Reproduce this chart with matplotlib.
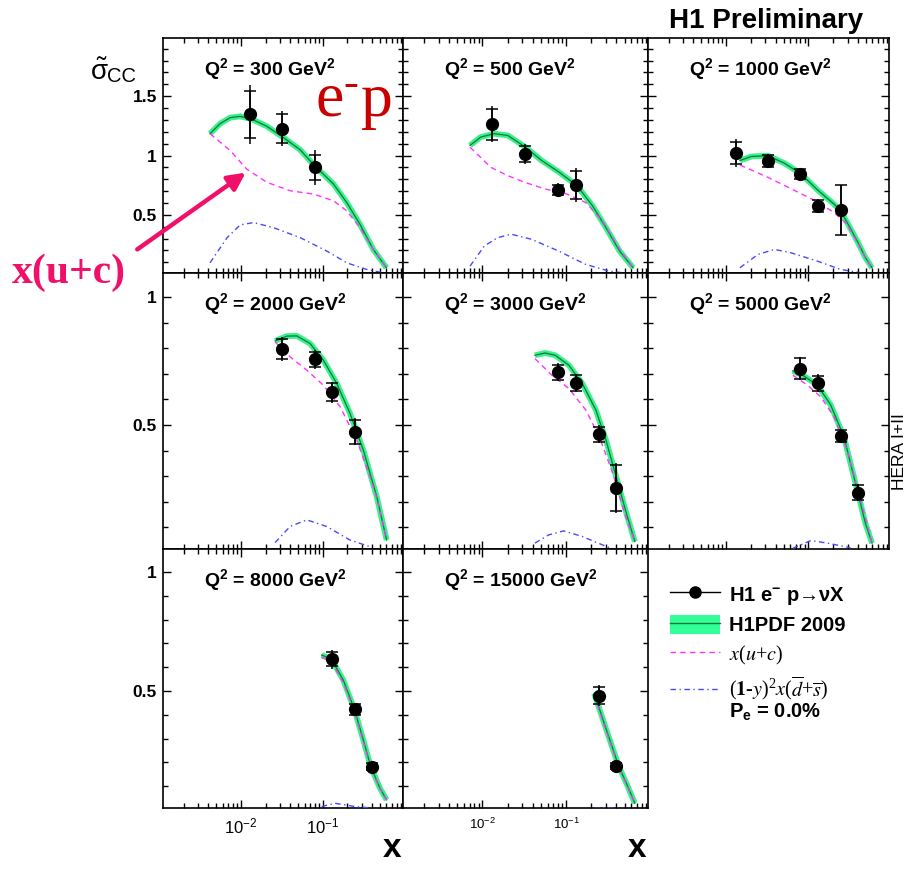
import numpy as np
import matplotlib
matplotlib.use("Agg")
import matplotlib.pyplot as plt
from matplotlib.ticker import LogLocator, MultipleLocator, FuncFormatter, NullFormatter
from matplotlib.lines import Line2D
from matplotlib.patches import Patch
from matplotlib.legend_handler import HandlerTuple

plt.rcParams['font.family'] = ['Liberation Sans', 'DejaVu Sans']
plt.rcParams['mathtext.default'] = 'regular'

# ---------------- data ----------------
# measured points: x, reduced cross section, stat error, total error
x_300 = [0.013, 0.032, 0.08]
sig_300 = [1.347, 1.226, 0.90]
stat_300 = [0.20, 0.12, 0.107]
tot_300 = [0.25, 0.15, 0.15]

x_500 = [0.013, 0.032, 0.08, 0.13]
sig_500 = [1.263, 1.014, 0.709, 0.752]
stat_500 = [0.13, 0.07, 0.045, 0.12]
tot_500 = [0.15, 0.085, 0.06, 0.14]

x_1000 = [0.013, 0.032, 0.08, 0.13, 0.25]
sig_1000 = [1.02, 0.955, 0.845, 0.572, 0.54]
stat_1000 = [0.09, 0.05, 0.04, 0.05, 0.21]
tot_1000 = [0.12, 0.06, 0.05, 0.06, 0.21]

x_2000 = [0.032, 0.08, 0.13, 0.25]
sig_2000 = [0.797, 0.757, 0.628, 0.474]
stat_2000 = [0.04, 0.03, 0.035, 0.047]
tot_2000 = [0.047, 0.037, 0.041, 0.054]

x_3000 = [0.08, 0.13, 0.25, 0.40]
sig_3000 = [0.706, 0.665, 0.464, 0.253]
stat_3000 = [0.03, 0.03, 0.03, 0.09]
tot_3000 = [0.035, 0.035, 0.035, 0.098]

x_5000 = [0.08, 0.13, 0.25, 0.40]
sig_5000 = [0.721, 0.663, 0.458, 0.236]
stat_5000 = [0.04, 0.03, 0.024, 0.03]
tot_5000 = [0.046, 0.035, 0.028, 0.033]

x_8000 = [0.13, 0.25, 0.40]
sig_8000 = [0.634, 0.423, 0.182]
stat_8000 = [0.03, 0.024, 0.015]
tot_8000 = [0.04, 0.028, 0.018]

x_15000 = [0.25, 0.40]
sig_15000 = [0.48, 0.185]
stat_15000 = [0.035, 0.012]
tot_15000 = [0.045, 0.015]

# curves: H1PDF 2009 prediction, x(u+c), (1-y)^2 x(dbar+sbar)   as (x, value)
pdf_300 = [(0.0042, 1.184), (0.0056, 1.269), (0.0074, 1.319), (0.0098, 1.33), (0.0134, 1.308),
           (0.0208, 1.246), (0.0325, 1.155), (0.053, 1.048), (0.078, 0.92), (0.135, 0.76),
           (0.196, 0.604), (0.285, 0.42), (0.414, 0.209), (0.60, 0.054)]
xuc_300 = [(0.0042, 1.184), (0.0074, 1.042), (0.0118, 0.885), (0.0208, 0.774), (0.040, 0.703),
           (0.077, 0.675), (0.135, 0.619), (0.196, 0.534), (0.285, 0.392), (0.414, 0.209), (0.60, 0.054)]
dsb_300 = [(0.0042, 0.096), (0.0068, 0.308), (0.0098, 0.415), (0.0143, 0.435), (0.025, 0.392),
           (0.053, 0.308), (0.112, 0.195), (0.196, 0.096), (0.344, 0.04), (0.55, 0.011)]

pdf_500 = [(0.0071, 1.085), (0.0095, 1.155), (0.0138, 1.184), (0.0201, 1.169), (0.0327, 1.07),
           (0.051, 0.958), (0.083, 0.858), (0.135, 0.746), (0.207, 0.576), (0.30, 0.392),
           (0.437, 0.195), (0.634, 0.054)]
xuc_500 = [(0.0071, 1.07), (0.0126, 0.90), (0.0201, 0.83), (0.032, 0.774), (0.056, 0.718),
           (0.098, 0.68), (0.172, 0.604), (0.272, 0.449), (0.437, 0.209), (0.634, 0.054)]
dsb_500 = [(0.0071, 0.068), (0.0105, 0.237), (0.0152, 0.308), (0.0221, 0.337), (0.0386, 0.294),
           (0.0815, 0.195), (0.172, 0.082), (0.331, 0.025), (0.50, 0.01)]

pdf_1000 = [(0.0147, 0.958), (0.0203, 0.992), (0.0322, 0.998), (0.051, 0.935), (0.0796, 0.85),
            (0.129, 0.71), (0.205, 0.59), (0.2415, 0.54), (0.296, 0.435), (0.392, 0.28),
            (0.493, 0.14), (0.594, 0.054)]
xuc_1000 = [(0.0147, 0.92), (0.0322, 0.816), (0.0616, 0.72), (0.12, 0.62), (0.205, 0.52),
            (0.296, 0.42), (0.392, 0.27), (0.493, 0.14), (0.594, 0.054)]
dsb_1000 = [(0.0147, 0.054), (0.0244, 0.167), (0.0387, 0.209), (0.0615, 0.18), (0.129, 0.11),
            (0.246, 0.04), (0.45, 0.01)]

pdf_2000 = [(0.0262, 0.829), (0.0364, 0.848), (0.0482, 0.849), (0.070, 0.819), (0.1017, 0.754),
            (0.148, 0.663), (0.215, 0.546), (0.313, 0.402), (0.456, 0.22), (0.603, 0.05)]
xuc_2000 = [(0.0262, 0.825), (0.0399, 0.767), (0.0638, 0.715), (0.1017, 0.656), (0.163, 0.572),
            (0.26, 0.441), (0.378, 0.298), (0.456, 0.215), (0.603, 0.05)]
dsb_2000 = [(0.0262, 0.04), (0.0399, 0.103), (0.0638, 0.129), (0.112, 0.103), (0.215, 0.05),
            (0.378, 0.024)]

pdf_3000 = [(0.0424, 0.773), (0.0561, 0.782), (0.0742, 0.773), (0.108, 0.734), (0.156, 0.663),
            (0.227, 0.559), (0.30, 0.441), (0.397, 0.298), (0.526, 0.155), (0.665, 0.044)]
xuc_3000 = [(0.0424, 0.76), (0.0676, 0.695), (0.108, 0.643), (0.172, 0.559), (0.25, 0.454),
            (0.362, 0.311), (0.502, 0.155), (0.665, 0.044)]
dsb_3000 = [(0.0424, 0.038), (0.0617, 0.07), (0.0938, 0.086), (0.156, 0.064), (0.273, 0.031),
            (0.397, 0.01)]

pdf_5000 = [(0.0646, 0.712), (0.089, 0.691), (0.129, 0.656), (0.187, 0.578), (0.27, 0.454),
            (0.392, 0.246), (0.493, 0.116), (0.594, 0.038)]
xuc_5000 = [(0.0646, 0.695), (0.0977, 0.656), (0.1416, 0.61), (0.205, 0.532), (0.296, 0.402),
            (0.43, 0.207), (0.594, 0.038)]
dsb_5000 = [(0.0646, 0.018), (0.107, 0.048), (0.17, 0.038), (0.325, 0.02)]

pdf_8000 = [(0.097, 0.651), (0.127, 0.635), (0.178, 0.546), (0.243, 0.423), (0.313, 0.294),
            (0.385, 0.182), (0.50, 0.091), (0.603, 0.042)]
xuc_8000 = [(0.097, 0.641), (0.127, 0.625), (0.178, 0.536), (0.243, 0.415), (0.313, 0.287),
            (0.385, 0.177), (0.50, 0.089), (0.603, 0.042)]
dsb_8000 = [(0.097, 0.014), (0.14, 0.028), (0.25, 0.014), (0.40, 0.008)]

pdf_15000 = [(0.217, 0.49), (0.30, 0.342), (0.425, 0.185), (0.526, 0.112), (0.665, 0.028)]
xuc_15000 = [(0.217, 0.482), (0.30, 0.335), (0.425, 0.18), (0.526, 0.108), (0.665, 0.028)]
dsb_15000 = [(0.217, 0.006), (0.30, 0.008), (0.45, 0.005)]

q2_values = [300, 500, 1000, 2000, 3000, 5000, 8000, 15000]
tick_labels_x = {0.01: r'$10^{-2}$', 0.1: r'$10^{-1}$'}

panels = [
    (x_300, sig_300, stat_300, tot_300, pdf_300, xuc_300, dsb_300),
    (x_500, sig_500, stat_500, tot_500, pdf_500, xuc_500, dsb_500),
    (x_1000, sig_1000, stat_1000, tot_1000, pdf_1000, xuc_1000, dsb_1000),
    (x_2000, sig_2000, stat_2000, tot_2000, pdf_2000, xuc_2000, dsb_2000),
    (x_3000, sig_3000, stat_3000, tot_3000, pdf_3000, xuc_3000, dsb_3000),
    (x_5000, sig_5000, stat_5000, tot_5000, pdf_5000, xuc_5000, dsb_5000),
    (x_8000, sig_8000, stat_8000, tot_8000, pdf_8000, xuc_8000, dsb_8000),
    (x_15000, sig_15000, stat_15000, tot_15000, pdf_15000, xuc_15000, dsb_15000),
]

# ---------------- layout ----------------
W, H = 908, 869
fig = plt.figure(figsize=(W / 100, H / 100), dpi=100)

col_edges = [163, 403, 648, 889]
row_edges = [38, 273, 549, 808]
row_ylims = [(0.01, 1.99), (0.015, 1.095), (0.008, 1.097)]

BAND = '#3cf08c'
BAND_LINE = '#0b7a3c'
MAG = '#ff33ff'
BLUE = '#4848ff'


def xfmt(v, pos):
    for k, s in tick_labels_x.items():
        if abs(v - k) < 1e-6 * k:
            return s
    return ''


for i, (q2, p) in enumerate(zip(q2_values, panels)):
    r, c = divmod(i, 3)
    L, R = col_edges[c], col_edges[c + 1]
    T, B = row_edges[r], row_edges[r + 1]
    ax = fig.add_axes([L / W, 1 - B / H, (R - L) / W, (B - T) / H])
    xs, sig, stat, tot, pdf, xuc, dsb = p

    px, py = zip(*pdf)
    ax.plot(px, py, color=BAND, lw=4.2, solid_capstyle='butt', solid_joinstyle='round', zorder=2)
    ax.plot(px, py, color=BAND_LINE, lw=0.9, zorder=2.1)
    mx, my = zip(*xuc)
    ax.plot(mx, my, color=MAG, lw=1.0, dashes=(4, 3), zorder=3)
    bx, by = zip(*dsb)
    ax.plot(bx, by, color=BLUE, lw=1.0, dashes=(4, 2.5, 1, 2.5), zorder=3)

    ax.errorbar(xs, sig, yerr=tot, fmt='none', ecolor='k', elinewidth=1.1, capsize=0, zorder=4)
    ax.errorbar(xs, sig, yerr=stat, fmt='none', ecolor='k', elinewidth=1.1, capsize=4,
                capthick=1.1, zorder=4)
    ax.plot(xs, sig, 'o', color='k', ms=8.5, zorder=5)

    ax.set_xscale('log')
    ax.set_xlim(1.12e-3, 0.955)
    ax.set_ylim(*row_ylims[r])
    ax.xaxis.set_major_locator(LogLocator(base=10, numticks=10))
    ax.xaxis.set_minor_locator(LogLocator(base=10, subs=np.arange(2, 10), numticks=20))
    ax.xaxis.set_minor_formatter(NullFormatter())
    ax.yaxis.set_major_locator(MultipleLocator(0.5))
    ax.yaxis.set_minor_locator(MultipleLocator(0.1))
    ax.tick_params(which='both', direction='in', top=True, right=True, width=1.0)
    ax.tick_params(which='major', length=6)
    ax.tick_params(which='minor', length=3.5)
    for s in ax.spines.values():
        s.set_linewidth(1.2)

    if c == 0:
        ax.yaxis.set_major_formatter(FuncFormatter(lambda v, pos: '%g' % round(v, 2)))
        ax.tick_params(axis='y', labelsize=12.5, pad=4.5)
        for t in ax.get_yticklabels():
            t.set_fontweight('bold')
    else:
        ax.yaxis.set_major_formatter(NullFormatter())

    if r == 2:
        ax.xaxis.set_major_formatter(FuncFormatter(xfmt))
        ax.tick_params(axis='x', labelsize=12 if c == 0 else 9.5, pad=6)
        ax.text(0.955, -0.19, 'x', transform=ax.transAxes, ha='center',
                va='baseline', fontsize=24, fontweight='bold')
    else:
        ax.xaxis.set_major_formatter(NullFormatter())

    ax.text(41 / (R - L), 1 - 37 / (B - T), 'Q$^{2}$ = %d GeV$^{2}$' % q2, transform=ax.transAxes,
            ha='left', va='baseline', fontsize=14, fontweight='bold')

# ---------------- decorations ----------------
fig.text(863 / W, 1 - 28 / H, 'H1 Preliminary', ha='right', va='baseline', fontsize=20,
         fontweight='bold')
fig.text(900 / W, 1 - 452 / H, 'HERA I+II', rotation=90, ha='center', va='center', fontsize=12.5)
fig.text(90 / W, 1 - 80 / H, r'$\tilde{\sigma}$', ha='left', va='baseline', fontsize=20)
fig.text(107 / W, 1 - 82 / H, 'CC', ha='left', va='baseline', fontsize=14.5)

EP = '#c80000'
fig.text(315 / W, 1 - 117 / H, 'e$^{\u2010}$p', ha='left', va='baseline', fontsize=46, color=EP,
         family='Liberation Serif')

PINK = '#f0106a'
fig.text(12 / W, 1 - 283 / H, 'x(u+c)', ha='left', va='baseline', fontsize=30,
         fontweight='bold', color=PINK, family='Liberation Serif')
fig.add_artist(matplotlib.patches.FancyArrowPatch(
    (135 / W, 1 - 251 / H), (248 / W, 1 - 171 / H), transform=fig.transFigure,
    arrowstyle='-|>', mutation_scale=26, lw=3.2, color=PINK))

handles = [
    Line2D([], [], color='k', lw=1, marker='o', ms=8),
    (Patch(facecolor='#33ff99', edgecolor='none'), Line2D([], [], color=BAND_LINE, lw=1)),
    Line2D([], [], color=MAG, lw=1, dashes=(4, 3)),
    Line2D([], [], color=BLUE, lw=1, dashes=(4, 2.5, 1, 2.5)),
]
labels = ['H1 e$^{-}$ p\u2192\u03bdX', 'H1PDF 2009',
          r'$\mathit{x}(\mathit{u}$+$\mathit{c})$',
          r'$(\mathbf{1}$-$\mathit{y})^{2}\mathit{x}(\overline{\mathit{d}}$+$\overline{\mathit{s}})$']
leg = fig.legend(handles, labels, loc='upper left', bbox_to_anchor=(670 / W, 1 - 584 / H),
                 frameon=False, borderpad=0, borderaxespad=0, handlelength=2.5,
                 handleheight=1.1, handletextpad=0.45, labelspacing=0.42,
                 prop={'size': 14.5, 'weight': 'bold'},
                 handler_map={tuple: HandlerTuple(ndivide=1, pad=0)})
for t in leg.get_texts()[2:]:
    t.set_fontfamily('Liberation Serif')
    t.set_fontweight('normal')
    t.set_math_fontfamily('stix')
fig.text(729 / W, 1 - 718 / H, 'P$_{e}$ = 0.0%', ha='left', va='baseline', fontsize=14.5,
         fontweight='bold')

fig.savefig('out.png', dpi=100)
